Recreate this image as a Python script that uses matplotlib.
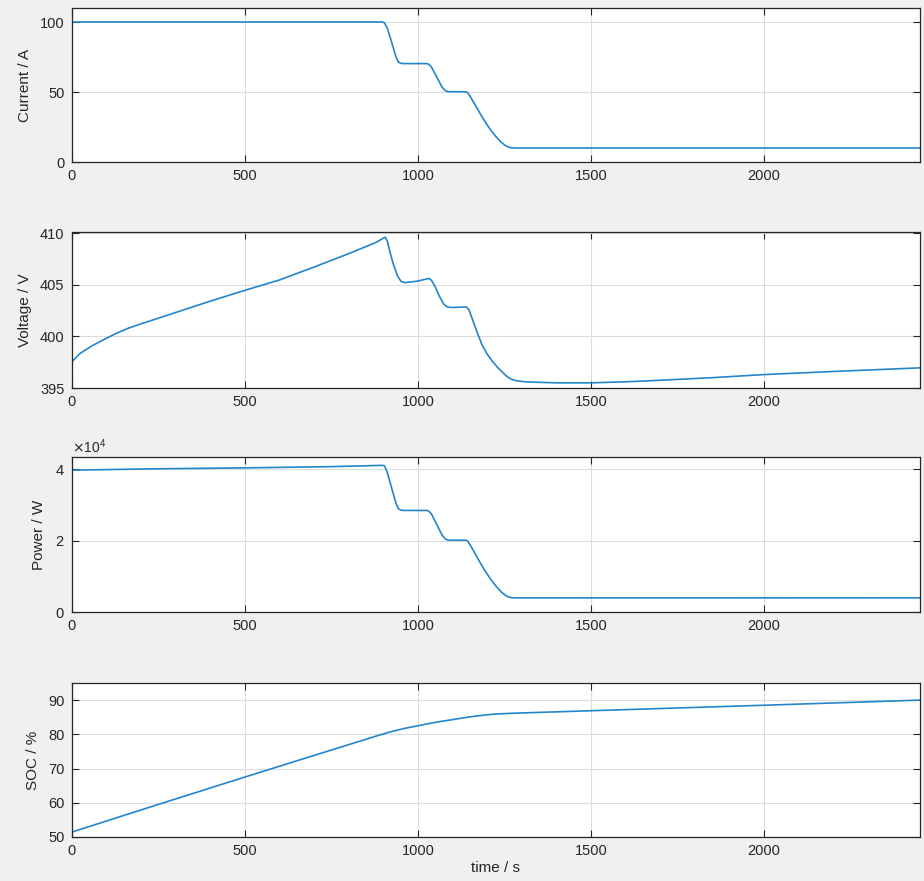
import matplotlib
matplotlib.use('Agg')
import matplotlib.pyplot as plt
from matplotlib.ticker import ScalarFormatter

# current (A)
currentTime = [0, 898, 904, 912, 925, 937, 944, 952, 960, 1026, 1032, 1040, 1055, 1070, 1079, 1086, 1095,
               1138, 1144, 1152, 1165, 1180, 1195, 1210, 1225, 1240, 1252, 1262, 1272, 1285, 2450]
current = [100, 100, 99.3, 95.5, 85, 75, 71.3, 70.4, 70.3, 70.3, 69.8, 67.5, 60.5, 53.5, 51, 50.3, 50.2,
           50.2, 49.5, 46.5, 41, 34.5, 28.5, 23, 18.3, 14.3, 11.9, 10.6, 10.1, 10, 10]

# voltage (V)
voltageTime = [0, 10, 25, 60, 100, 130, 165, 200, 250, 300, 400, 500, 600, 700, 800, 880, 900, 906, 912, 920,
               930, 942, 952, 962, 975, 1000, 1025, 1033, 1040, 1050, 1062, 1075, 1085, 1095, 1110, 1140,
               1147, 1155, 1170, 1185, 1200, 1215, 1230, 1245, 1258, 1270, 1285, 1310, 1350, 1400, 1500,
               1600, 1700, 1850, 2000, 2200, 2450]
voltage = [397.5, 397.85, 398.35, 399.1, 399.8, 400.3, 400.8, 401.2, 401.75, 402.3, 403.4, 404.45, 405.45,
           406.7, 408.0, 409.1, 409.5, 409.6, 409.2, 408.1, 406.9, 405.8, 405.3, 405.2, 405.25, 405.35,
           405.55, 405.6, 405.4, 404.8, 403.9, 403.1, 402.85, 402.8, 402.8, 402.85, 402.6, 401.9, 400.5,
           399.2, 398.3, 397.6, 397.0, 396.5, 396.1, 395.85, 395.7, 395.6, 395.55, 395.5, 395.5,
           395.6, 395.75, 396.0, 396.3, 396.6, 396.95]

# power (W)
powerTime = [0, 250, 500, 750, 898, 904, 912, 925, 937, 944, 952, 960, 1026, 1032, 1040, 1055, 1070, 1079,
             1086, 1095, 1138, 1144, 1152, 1165, 1180, 1195, 1210, 1225, 1240, 1252, 1262, 1272, 1285,
             1500, 2000, 2450]
power = [39800, 40200, 40450, 40800, 41150, 41000, 39100, 34600, 30500, 28950, 28550, 28500, 28500, 28300,
         27400, 24500, 21600, 20550, 20200, 20150, 20150, 19900, 18650, 16450, 13850, 11400, 9250, 7350,
         5700, 4750, 4200, 4000, 3960, 3955, 3965, 3970]

# state of charge (%)
socTime = [0, 250, 500, 750, 880, 920, 960, 1000, 1050, 1100, 1150, 1190, 1220, 1260, 1300, 1500, 2000, 2450]
soc = [51.4, 59.5, 67.5, 75.4, 79.5, 80.7, 81.7, 82.5, 83.5, 84.3, 85.1, 85.6, 85.9, 86.1, 86.25, 86.9, 88.5, 90.0]

xTicks = [0, 500, 1000, 1500, 2000]

plt.rcParams['font.family'] = ['Liberation Sans', 'DejaVu Sans']
plt.rcParams['font.size'] = 10

textColor = '#262626'
lineColor = '#2385cc'

fig = plt.figure(figsize=(9.24, 8.81), dpi=100)
fig.patch.set_facecolor('#f0f0f0')

W, H = 924.0, 881.0
left, right = 71.5, 920.0
boxes = [(8, 162), (232, 388), (457, 612), (683, 837)]

series = [
    (currentTime, current, 'Current / A', (0, 110), [0, 50, 100]),
    (voltageTime, voltage, 'Voltage / V', (395, 410.1), [395, 400, 405, 410]),
    (powerTime, power, 'Power / W', (0, 43500), [0, 20000, 40000]),
    (socTime, soc, 'SOC / %', (50, 95), [50, 60, 70, 80, 90]),
]

axes = []
for (top, bottom), (t, y, label, ylim, yTicks) in zip(boxes, series):
    ax = fig.add_axes([left / W, 1 - bottom / H, (right - left) / W, (bottom - top) / H])
    ax.plot(t, y, color=lineColor, linewidth=1.2)
    ax.set_xlim(0, 2450)
    ax.set_ylim(*ylim)
    ax.set_xticks(xTicks)
    ax.set_yticks(yTicks)
    ax.grid(True, color='#dcdcdc', linewidth=0.8)
    ax.set_axisbelow(True)
    ax.tick_params(direction='in', length=5, width=0.8, colors=textColor, labelsize=10.5,
                   top=True, right=True, pad=5)
    for s in ax.spines.values():
        s.set_color(textColor)
        s.set_linewidth(0.9)
    ax.set_ylabel(label, fontsize=11, color=textColor, labelpad=6)
    axes.append(ax)

fmt = ScalarFormatter(useMathText=True)
fmt.set_powerlimits((0, 0))
axes[2].yaxis.set_major_formatter(fmt)
axes[2].yaxis.get_offset_text().set_color(textColor)
axes[2].yaxis.get_offset_text().set_fontsize(10)

axes[3].set_xlabel('time / s', fontsize=11, color=textColor, labelpad=2)

fig.savefig('out.png', dpi=100, facecolor=fig.get_facecolor())
